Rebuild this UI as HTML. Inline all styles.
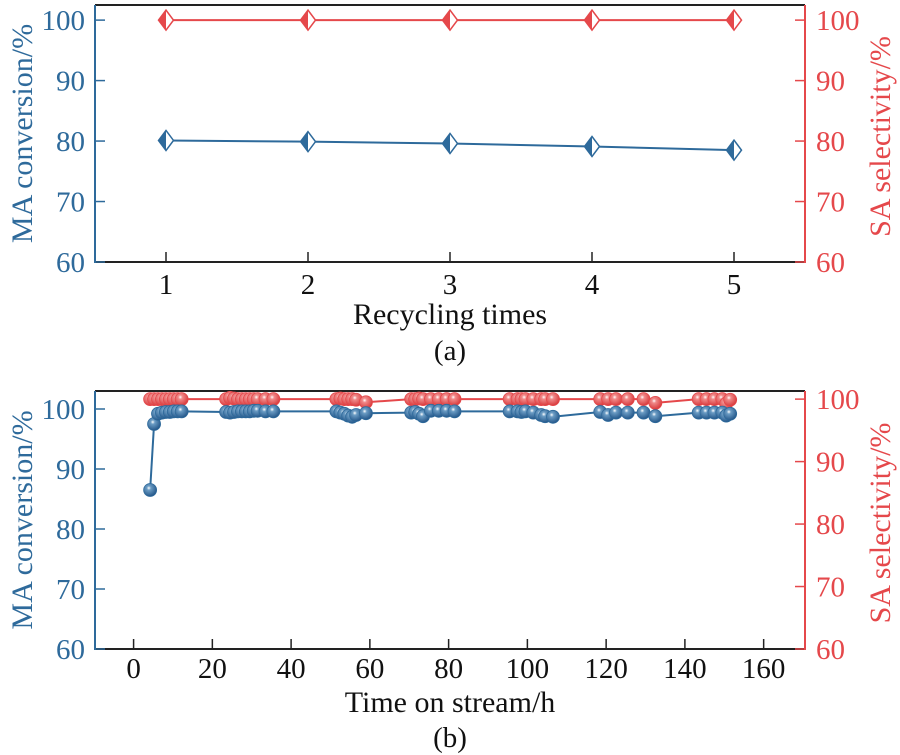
<!DOCTYPE html>
<html><head><meta charset="utf-8">
<style>
html,body{margin:0;padding:0;background:#fff;}
svg{display:block;font-family:"Liberation Serif",serif;}
</style></head>
<body>
<svg id="fig" width="900" height="755" viewBox="0 0 900 755" xmlns="http://www.w3.org/2000/svg">
<defs>
<radialGradient id="gb" cx="0.4" cy="0.35" r="0.65"><stop offset="0" stop-color="#ffffff"/><stop offset="0.25" stop-color="#6b9cc4"/><stop offset="1" stop-color="#24578a"/></radialGradient>
<radialGradient id="gr" cx="0.4" cy="0.35" r="0.65"><stop offset="0" stop-color="#ffffff"/><stop offset="0.25" stop-color="#f08a8a"/><stop offset="1" stop-color="#d83a3c"/></radialGradient>
</defs>
</svg>
<script>
// ---- Panel (a) data ----
const recycleX = [1, 2, 3, 4, 5];
const recycleConv = [80.1, 79.9, 79.6, 79.1, 78.5];
const recycleSel = [100, 100, 100, 100, 100];
const aXTicks = [1, 2, 3, 4, 5];
const yTicks = [60, 70, 80, 90, 100];
// ---- Panel (b) data ----
const streamT = [4.2,5.2,6.2,7.2,8.2,9.2,10.2,11.2,12.2,
 23.5,24.5,25.5,26.5,27.5,28.5,29.5,30.5,31.5,33.5,35.5,
 51.5,52.5,53.5,54.5,55.5,56.5,59,
 70.5,71.5,72.5,73.5,75.5,77.5,79.5,81.5,
 95.5,97.5,98.5,99.5,101.5,103.5,104.5,106.5,
 118.5,120.5,122.5,125.5,129.5,132.5,
 143.5,145.5,147.5,149.5,150.5,151.5];
const streamConv = [86.5,97.5,99.2,99.4,99.5,99.5,99.6,99.6,99.6,
 99.5,99.4,99.5,99.6,99.6,99.6,99.6,99.7,99.7,99.6,99.6,
 99.6,99.4,99.2,98.9,98.7,99.0,99.3,
 99.4,99.5,99.2,98.8,99.7,99.7,99.7,99.6,
 99.6,99.6,99.5,99.6,99.4,99.0,98.8,98.7,
 99.5,99.0,99.4,99.4,99.4,98.8,
 99.4,99.4,99.4,99.4,98.9,99.2];
const streamSel = [100,100,100,100,100,100,100,100,100,
 100,100.2,100.1,100,100,100,100,100,100,100,100,
 100,100.1,100,100,100,99.9,99.5,
 100,100,100.1,100,100,100,100,100,
 100,100,100,100,100,100,100,100,
 100,100,100,100,100,99.4,
 100,100,100,100,99.3,99.9];
const bXTicks = [0,20,40,60,80,100,120,140,160];

const NS = "http://www.w3.org/2000/svg";
const svg = document.getElementById('fig');
const BLUE = "#2e6a9b", RED = "#e5484b";
function el(tag, attrs, parent){ const e=document.createElementNS(NS,tag); for(const k in attrs) e.setAttribute(k,attrs[k]); (parent||svg).appendChild(e); return e; }
function txt(s, attrs, parent){ const t=el('text',attrs,parent); t.textContent=s; return t; }

function panel(cfg){
  const g = el('g',{});
  
  
  const {L,R,T,B,xmin,xmax,ylmin,ylmax,yrmin,yrmax} = cfg;
  const sx = v => L + (v - xmin) / (xmax - xmin) * (R - L);
  const syl = v => B - (v - ylmin) / (ylmax - ylmin) * (B - T);
  const syr = v => B - (v - yrmin) / (yrmax - yrmin) * (B - T);
  let s;
  s = el('line',{x1:L,y1:T,x2:R,y2:T,stroke:'#222','stroke-width':2},g);
   
  s = el('line',{x1:L,y1:B,x2:R,y2:B,stroke:'#222','stroke-width':2},g);
   
  s = el('line',{x1:L,y1:T,x2:L,y2:B+1,stroke:BLUE,'stroke-width':2},g);
   
  s = el('line',{x1:R,y1:T,x2:R,y2:B+1,stroke:RED,'stroke-width':2},g);
   
  cfg.xticks.forEach(v=>{
    const x=sx(v);
    el('line',{x1:x,y1:B,x2:x,y2:B-10,stroke:'#222','stroke-width':1.5},g);
    const t=txt(String(v),{x:x,y:B+cfg.xtickDy,'text-anchor':'middle','font-size':29,fill:'#111'},g);
     
  });
  yTicks.forEach(v=>{
    const y=syl(v);
    el('line',{x1:L,y1:y,x2:L+10,y2:y,stroke:BLUE,'stroke-width':1.5},g);
    const t=txt(String(v),{x:L-10,y:y+10,'text-anchor':'end','font-size':29,fill:BLUE},g);
     
    const y2=syr(v);
    el('line',{x1:R-10,y1:y2,x2:R,y2:y2,stroke:RED,'stroke-width':1.5},g);
    const t2=txt(String(v),{x:R+11,y:y2+10,'text-anchor':'start','font-size':29,fill:RED},g);
     
  });
  const cy=(T+B)/2;
  let t=txt('MA conversion/%',{x:0,y:0,'text-anchor':'middle','font-size':30,fill:BLUE,transform:`translate(32,${cy}) rotate(-90)`},g);
   
  t=txt('SA selectivity/%',{x:0,y:0,'text-anchor':'middle','font-size':30,fill:RED,transform:`translate(890,${cy+3}) rotate(-90)`},g);
   
  t=txt(cfg.xlabel,{x:cfg.xlabelX,y:B+cfg.xlabelDy,'text-anchor':'middle','font-size':30,fill:'#111'},g);
   
  t=txt(cfg.caption,{x:450,y:B+cfg.capDy,'text-anchor':'middle','font-size':29,fill:'#111'},g);
   
  return {g,sx,syl,syr};
}

// ---- Panel (a) ----
const A = panel({name:'panel-a',L:95,R:805,T:5,B:262,xmin:0.5,xmax:5.5,ylmin:60,ylmax:102.5,yrmin:60,yrmax:102.5,
  xticks:aXTicks,xlabel:'Recycling times',xlabelX:450,caption:'(a)',xtickDy:32,xlabelDy:62,capDy:98});
function diamondSeries(xs, ys, sy, color, name){
  const pts = xs.map((x,i)=>`${A.sx(x)},${sy(ys[i])}`).join(' ');
  const line = el('polyline',{points:pts,fill:'none',stroke:color,'stroke-width':2},A.g);
  
  
  xs.forEach((x,i)=>{
    const cx=A.sx(x), cy=sy(ys[i]);
    const m = el('g',{},A.g);
    
    
    el('polygon',{points:`${cx},${cy-10} ${cx+7.5},${cy} ${cx},${cy+10} ${cx-7.5},${cy}`,fill:'#fff',stroke:color,'stroke-width':1.5},m);
    el('polygon',{points:`${cx},${cy-10} ${cx},${cy+10} ${cx-7.5},${cy}`,fill:color},m);
  });
}
diamondSeries(recycleX, recycleSel, A.syr, RED, 'sa-selectivity');
diamondSeries(recycleX, recycleConv, A.syl, BLUE, 'ma-conversion');

// ---- Panel (b) ----
const Bp = panel({name:'panel-b',L:95,R:805,T:391,B:649,xmin:-9.8,xmax:170.5,ylmin:60,ylmax:103,yrmin:60,yrmax:101.3,
  xticks:bXTicks,xlabel:'Time on stream/h',xlabelX:450,caption:'(b)',xtickDy:29,xlabelDy:63,capDy:98});
function ballSeries(xs, ys, sy, color, grad, name){
  const pts = xs.map((x,i)=>`${Bp.sx(x)},${sy(ys[i])}`).join(' ');
  const line = el('polyline',{points:pts,fill:'none',stroke:color,'stroke-width':2},Bp.g);
  
  
  xs.forEach((x,i)=>{
    const c = el('circle',{cx:Bp.sx(x),cy:sy(ys[i]),r:6.5,fill:`url(#${grad})`,stroke:color,'stroke-width':0.8},Bp.g);
    
    
  });
}
ballSeries(streamT, streamSel, Bp.syr, RED, 'gr', 'sa-selectivity');
ballSeries(streamT, streamConv, Bp.syl, BLUE, 'gb', 'ma-conversion');
</script>
</body></html>
